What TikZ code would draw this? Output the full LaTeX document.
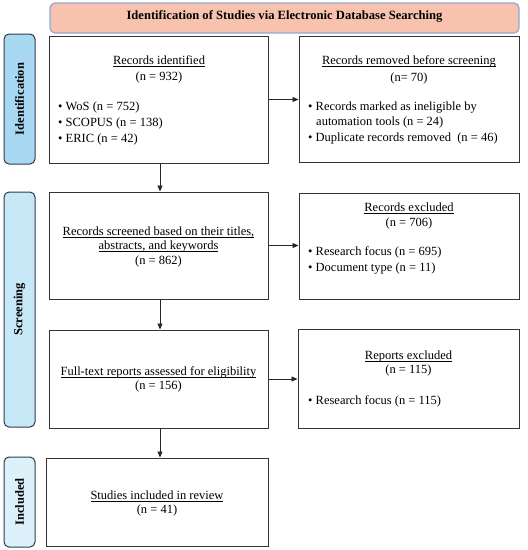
\documentclass[tikz,border=0pt]{standalone}
\usepackage{fontspec}
\setmainfont{Liberation Serif}
\usetikzlibrary{arrows.meta,calc}
\definecolor{titlefill}{HTML}{F7C3AE}
\definecolor{titledraw}{HTML}{8FA8DC}
\definecolor{sideA}{HTML}{A9D9F2}
\definecolor{sideB}{HTML}{C6E8F7}
\definecolor{sideC}{HTML}{DDF1FA}
\definecolor{sidedraw}{HTML}{2E3B4E}
\newcommand{\ulx}[1]{\underline{\smash{#1}}}
\begin{document}
\begin{tikzpicture}[x=1pt,y=-1pt,
  box/.style={draw=black!80,line width=1pt,inner sep=0pt,fill=white},
  side/.style={draw=sidedraw,line width=1pt,rounded corners=5pt,inner sep=0pt},
  sidetext/.style={rotate=90,font=\fontsize{12.5}{14}\selectfont\bfseries},
  txt/.style={font=\fontsize{12.5}{14}\selectfont,inner sep=0pt,anchor=mid},
  ltxt/.style={font=\fontsize{12.5}{14}\selectfont,inner sep=0pt,anchor=mid west},
  arr/.style={-{Triangle[length=6pt,width=5pt]},line width=0.8pt,black!85}]
\useasboundingbox (0,0) rectangle (528,550);
% title
\node[draw=titledraw,fill=titlefill,line width=1.2pt,rounded corners=5pt,minimum width=469pt,minimum height=30pt,inner sep=0pt] (title) at (284.5,18) {};
\node[txt,font=\fontsize{12.6}{14}\selectfont\bfseries] (titletxt) at (284.5,17) {Identification of Studies via Electronic Database Searching};
% side labels
\node[side,fill=sideA,minimum width=31pt,minimum height=130pt] (s1) at (19.5,99) {};
\node[sidetext] (s1t) at (s1.center) {Identification};
\node[side,fill=sideB,minimum width=31pt,minimum height=235pt] (s2) at (19.5,309.5) {};
\node[sidetext] (s2t) at (s2.center) {Screening};
\node[side,fill=sideC,minimum width=31pt,minimum height=90pt] (s3) at (19.5,502) {};
\node[sidetext] (s3t) at (s3.center) {Included};
% boxes
\node[box,minimum width=219pt,minimum height=127pt] (b1) at (158.5,99.5) {};
\node[box,minimum width=220pt,minimum height=126pt] (r1) at (409,99) {};
\node[box,minimum width=219pt,minimum height=107pt] (b2) at (158.5,245.5) {};
\node[box,minimum width=220pt,minimum height=106pt] (r2) at (409,246) {};
\node[box,minimum width=219pt,minimum height=98pt] (b3) at (158.5,379) {};
\node[box,minimum width=221pt,minimum height=99pt] (r3) at (408.5,378.5) {};
\node[box,minimum width=222pt,minimum height=88pt] (b4) at (157,502) {};
% box 1 text
\node[txt] (b1a) at (159,62) {\ulx{Records identified}};
\node[txt] (b1b) at (159,78) {(n = 932)};
\node[ltxt] (b1c) at (58,108) {\textbullet\ WoS (n = 752)};
\node[ltxt] (b1d) at (58,124) {\textbullet\ SCOPUS (n = 138)};
\node[ltxt] (b1e) at (58,140) {\textbullet\ ERIC (n = 42)};
% r1 text
\node[txt] (r1a) at (409,62) {\ulx{Records removed before screening}};
\node[txt] (r1b) at (409,79) {(n= 70)};
\node[ltxt] (r1c) at (308,108) {\textbullet\ Records marked as ineligible by};
\node[ltxt] (r1d) at (316,123.5) {automation tools (n = 24)};
\node[ltxt] (r1e) at (308,139) {\textbullet\ Duplicate records removed\ \ (n = 46)};
% b2 text
\node[txt] (b2a) at (158.5,233) {\ulx{Records screened based on their titles,}};
\node[txt] (b2b) at (158.5,247.5) {\ulx{abstracts, and keywords}};
\node[txt] (b2c) at (158.5,262) {(n = 862)};
% r2 text
\node[txt] (r2a) at (409,209.5) {\ulx{Records excluded}};
\node[txt] (r2b) at (409,224.5) {(n = 706)};
\node[ltxt] (r2c) at (308,253.5) {\textbullet\ Research focus (n = 695)};
\node[ltxt] (r2d) at (308,269) {\textbullet\ Document type (n = 11)};
% b3 text
\node[txt] (b3a) at (158.5,373) {\ulx{Full-text reports assessed for eligibility}};
\node[txt] (b3b) at (158.5,387.5) {(n = 156)};
% r3 text
\node[txt] (r3a) at (408.5,357) {\ulx{Reports excluded}};
\node[txt] (r3b) at (408.5,371.5) {(n = 115)};
\node[ltxt] (r3c) at (308,402.5) {\textbullet\ Research focus (n = 115)};
% b4 text
\node[txt] (b4a) at (157,497) {\ulx{Studies included in review}};
\node[txt] (b4b) at (157,511.5) {(n = 41)};
% arrows
\draw[arr] (b1.east) -- (b1.east -| r1.west);
\draw[arr] (b2.east) -- (b2.east -| r2.west);
\draw[arr] (b3.east) -- (b3.east -| r3.west);
\draw[arr] ($(b1.south)+(1.5,0)$) -- ($(b2.north)+(1.5,0)$);
\draw[arr] ($(b2.south)+(1.5,0)$) -- ($(b3.north)+(1.5,0)$);
\coordinate (b4top) at ($(b3.south)+(1.5,0)$);
\draw[arr] (b4top) -- (b4top |- b4.north);
\end{tikzpicture}
\end{document}
